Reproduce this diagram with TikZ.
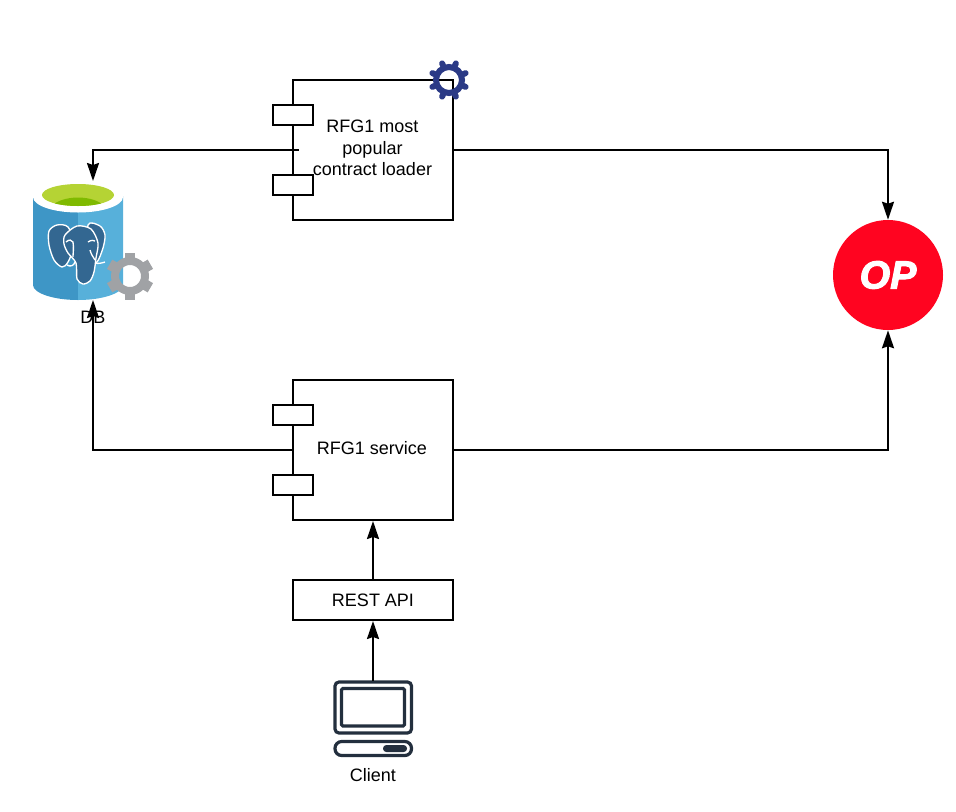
\documentclass[tikz,border=0pt]{standalone}
\usepackage{fontspec}
\setmainfont{Liberation Sans}
\newfontfamily\opfont[FakeBold=2.5]{Liberation Sans}
\usetikzlibrary{arrows.meta,positioning,calc}
\definecolor{dbDark}{HTML}{3E96C6}
\definecolor{dbLight}{HTML}{57B0DA}
\definecolor{dbGreen}{HTML}{B5D334}
\definecolor{dbInner}{HTML}{7FBA00}
\definecolor{pgBlue}{HTML}{336791}
\definecolor{gearGray}{HTML}{A0A2A5}
\definecolor{gearBlue}{HTML}{2B3A86}
\definecolor{opRed}{HTML}{FF0420}
\definecolor{iconDark}{HTML}{232F3E}
\tikzset{
  comp/.style={draw,line width=1.5pt,fill=white,minimum width=120pt,align=center,font=\fontsize{13.5}{16}\selectfont,inner sep=0pt},
  port/.style={draw,line width=1.5pt,fill=white,minimum width=30pt,minimum height=15pt,inner sep=0pt},
  lbl/.style={font=\fontsize{13.5}{16}\selectfont,inner sep=0pt},
  link/.style={line width=1.5pt,-{Stealth[length=13.5pt,width=9pt,inset=1.5pt]}},
  icon/.style={draw=iconDark,line width=2.4pt,rounded corners=3pt}
}
% center, colour, ring radius, ring width, tooth from, tooth length, tooth width, cap, angles
\newcommand{\drawgear}[9]{%
  \draw[#2,line width=#4] #1 circle(#3);
  \foreach \a in {#9}
    \draw[#2,line width=#7,line cap=#8] #1 ++(\a:#5) -- ++(\a:#6);
}
\begin{document}
\begin{tikzpicture}[x=.75pt,y=-.75pt,>=Stealth]
\useasboundingbox (0,0) rectangle (956,811);
% database
\fill[dbDark] (33,196)--(33,285) .. controls (33,293) and (53,300) .. (78,300)--(78,196)--cycle;
\fill[dbLight] (123,196)--(123,285) .. controls (123,293) and (103,300) .. (78,300)--(78,196)--cycle;
\fill[white] (78,197) ellipse(45 and 15.5);
\fill[dbGreen] (78,195) ellipse(36 and 11);
\begin{scope}
\clip (78,195) ellipse(36 and 11);
\fill[dbInner] (50,208) .. controls (60,194) and (96,194) .. (106,208)--cycle;
\end{scope}
\begin{scope}[draw=white,fill=pgBlue,line width=1pt]
\filldraw plot[smooth cycle] coordinates {(68,227) (57,225) (49,231) (49,245) (54,260) (62,267) (68,262) (74,245)};
\filldraw plot[smooth cycle] coordinates {(88,225) (100,226) (105,235) (103,248) (97,262) (90,260)};
\filldraw plot[smooth cycle] coordinates {(65,235) (77,226) (91,229) (98,243) (96,258) (94,272) (90,281) (83,284) (77,279) (76,263) (68,253) (64,244)};
\draw (66,242) .. controls (69,239) and (72,240) .. (73,242) .. controls (74,248) and (73,253) .. (73,257);
\draw (88,242) .. controls (91,240) and (94,240) .. (95,241);
\draw (90,250) .. controls (91,254) and (93,257) .. (95,260);
\draw (67,265) .. controls (70,267) and (74,266) .. (75,262);
\draw (95,263) .. controls (98,264) and (102,263) .. (105,262);
\end{scope}
\drawgear{(130,276)}{gearGray}{15}{6pt}{15}{8.5}{8pt}{butt}{30,90,...,330}
\node[lbl] (dbLabel) at (93,317) {DB};
\coordinate (dbTop) at (93,181);
\coordinate (dbBottom) at (93,300);
% loader
\node[comp,minimum height=105pt] (loaderBox) at (373,150) {};
\node[port] (loaderPortA) at (293,115) {};
\node[port] (loaderPortB) at (293,185) {};
\node[lbl,align=center] (loaderText) at (372.5,148) {RFG1 most\\popular\\contract loader};
\drawgear{(449,80)}{gearBlue}{13}{4.5pt}{14}{4}{4.5pt}{round}{22.5,67.5,...,360}
\coordinate (loaderLeft) at (299,150);
% service
\node[comp,minimum height=105pt] (serviceBox) at (373,450) {};
\node[port] (servicePortA) at (293,415) {};
\node[port] (servicePortB) at (293,485) {};
\node[lbl] (serviceText) at (372,448) {RFG1 service};
% api
\node[comp,minimum height=30pt] (apiBox) at (373,600) {REST API};
% op
\node[circle,fill=opRed,minimum size=82.5pt,inner sep=0pt,text=white,font=\fontsize{29.5}{29.5}\opfont\bfseries\itshape] (opNode) at (888,275) {OP};
% client
\draw[icon] (335,682) rectangle (411.5,733);
\draw[icon,rounded corners=1pt] (341.5,688.5) rectangle (404.5,726);
\draw[icon,rounded corners=5pt] (335,741.5) rectangle (411.5,755.5);
\fill[iconDark,rounded corners=2.5pt] (383,745) rectangle (407,752);
\coordinate (clientTop) at (373,681);
\node[lbl] (clientLabel) at (373,775) {Client};
% links
\draw[link] (loaderLeft) -| (dbTop);
\draw[link] (serviceBox.west) -| (dbBottom);
\draw[link] (loaderBox.east) -| (opNode.north);
\draw[link] (serviceBox.east) -| (opNode.south);
\draw[link] (apiBox.north) -- (serviceBox.south);
\draw[link] (clientTop) -- (apiBox.south);
\end{tikzpicture}
\end{document}
